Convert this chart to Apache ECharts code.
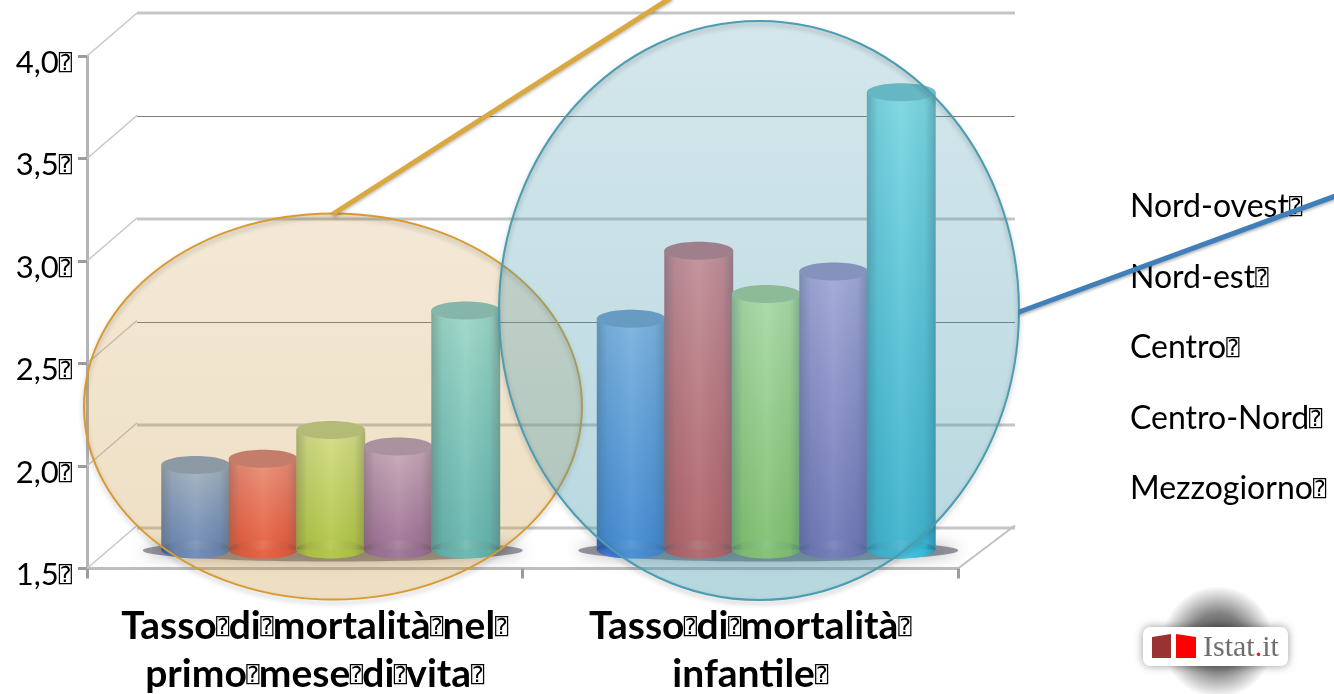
<!DOCTYPE html>
<html>
<head>
<meta charset="utf-8">
<title>Tasso di mortalità</title>
<script src="https://cdn.jsdelivr.net/npm/echarts@6/dist/echarts.min.js"></script>
<style>
  html, body { margin: 0; padding: 0; background: #fff; overflow: hidden; }
  #chart { width: 1334px; height: 694px; }
</style>
</head>
<body>
<div id="chart"></div>
<script>
// Mortality rates by area of Italy
const categories = ['Tasso⍰di⍰mortalità⍰nel⍰\nprimo⍰mese⍰di⍰vita⍰', 'Tasso⍰di⍰mortalità⍰\ninfantile⍰'];
const areas = ['Nord-ovest⍰', 'Nord-est⍰', 'Centro⍰', 'Centro-Nord⍰', 'Mezzogiorno⍰'];
const nordOvest = [1.91, 2.62];
const nordEst = [1.94, 2.95];
const centro = [2.08, 2.74];
const centroNord = [2.00, 2.85];
const mezzogiorno = [2.66, 3.72];
const yTicks = [1.5, 2.0, 2.5, 3.0, 3.5, 4.0];
const yTickLabels = ['1,5⍰', '2,0⍰', '2,5⍰', '3,0⍰', '3,5⍰', '4,0⍰'];

const seriesValues = [nordOvest, nordEst, centro, centroNord, mezzogiorno];
// [light top, saturated bottom] for each cylinder
const barColors = [
  ['#92bef6', '#3f80ea'],
  ['#f8898e', '#f53f39'],
  ['#d8f9a2', '#a5da45'],
  ['#c8afe9', '#895fbd'],
  ['#8ceef5', '#36c3e2']
];

const FONT = 'Lato, "DejaVu Sans Mono", "DejaVu Sans", sans-serif';
const G = echarts.graphic;

// Front plane, mid-depth plane (bars) and back wall of the 3D box
const depthX = 50, depthY = 43;
const plane = (dx, dy) => ({ left: 87 + dx, top: 56 - dy, width: 871, height: 515, containLabel: false });

function hiddenX(i) {
  return { gridIndex: i, type: 'category', data: categories, show: false };
}
function hiddenY(i) {
  return { gridIndex: i, type: 'value', min: 1.5, max: 4, interval: 0.5, show: false };
}

// Label split into tokens: an inner box glyph keeps only a narrow advance
function boxedLabel(text) {
  return text.split('\n').map(line => {
    const parts = line.split('⍰');
    return parts.slice(0, -1).map((p, i) =>
      `{t|${p}}` + (i < parts.length - 2 ? '{q|⍰}' : '{e|⍰}')).join('');
  }).join('\n');
}

function cylinder(index) {
  return function (params, api) {
    const cat = api.value(0), val = api.value(1);
    const top = api.coord([cat, val]);
    const base = api.coord([cat, 1.5]);
    const step = api.size([1, 0])[0] * 0.155;
    const half = step * 0.51;
    const cx = top[0] + (index - 2) * step + 1;
    const ry = 9;
    const [light, deep] = barColors[index];
    const vertical = new G.LinearGradient(0, 0, 0, 1, [
      { offset: 0, color: light }, { offset: 1, color: deep }
    ]);
    const edges = new G.LinearGradient(0, 0, 1, 0, [
      { offset: 0, color: 'rgba(40,50,70,0.34)' },
      { offset: 0.16, color: 'rgba(40,50,70,0.08)' },
      { offset: 0.5, color: 'rgba(255,255,255,0.10)' },
      { offset: 0.84, color: 'rgba(40,50,70,0.08)' },
      { offset: 1, color: 'rgba(40,50,70,0.34)' }
    ]);
    const h = base[1] - top[1];
    return {
      type: 'group',
      children: [
        { type: 'ellipse', shape: { cx, cy: base[1], rx: half, ry }, style: { fill: deep } },
        { type: 'rect', shape: { x: cx - half, y: top[1], width: half * 2, height: h }, style: { fill: vertical } },
        { type: 'ellipse', shape: { cx, cy: base[1], rx: half, ry }, style: { fill: edges } },
        { type: 'rect', shape: { x: cx - half, y: top[1], width: half * 2, height: h }, style: { fill: edges } },
        { type: 'ellipse', shape: { cx, cy: top[1], rx: half, ry }, style: { fill: light } },
        { type: 'ellipse', shape: { cx, cy: top[1], rx: half, ry }, style: { fill: 'rgba(30,45,70,0.24)' } }
      ]
    };
  };
}

const barSeries = areas.map((name, i) => ({
  name,
  type: 'custom',
  xAxisIndex: 1,
  yAxisIndex: 1,
  z: 5,
  silent: true,
  renderItem: cylinder(i),
  encode: { x: 0, y: 1 },
  itemStyle: { color: barColors[i][1] },
  data: seriesValues[i].map((v, c) => [c, v]),
  clip: false
}));

const option = {
  backgroundColor: '#ffffff',
  animation: false,
  grid: [plane(0, 0), plane(depthX / 2, depthY / 2), plane(depthX + 7, depthY)],
  xAxis: [
    {
      gridIndex: 0,
      type: 'category',
      data: categories,
      axisLine: { lineStyle: { color: '#bdbdbd', width: 3 } },
      axisTick: { show: true, length: 10, alignWithLabel: false, lineStyle: { color: '#9c9c9c', width: 3 } },
      axisLabel: {
        interval: 0,
        margin: 34,
        padding: [0, 0, 0, 20],
        formatter: boxedLabel,
        rich: {
          t: { fontFamily: FONT, fontSize: 39, fontWeight: 'bold', color: '#000', lineHeight: 48 },
          q: { fontFamily: FONT, fontSize: 22, color: '#000', width: 12, lineHeight: 48 },
          e: { fontFamily: FONT, fontSize: 22, color: '#000', lineHeight: 48 }
        }
      }
    },
    hiddenX(1),
    hiddenX(2)
  ],
  yAxis: [
    {
      gridIndex: 0,
      type: 'value',
      min: 1.5,
      max: 4,
      interval: 0.5,
      axisLine: { show: true, lineStyle: { color: '#b4b4b4', width: 3 } },
      axisTick: { show: true, length: 9, lineStyle: { color: '#9c9c9c', width: 3 } },
      splitLine: { show: false },
      axisLabel: {
        margin: 15,
        padding: [13, 0, 0, 0],
        formatter: v => boxedLabel(yTickLabels[yTicks.indexOf(v)]),
        rich: {
          t: { fontFamily: FONT, fontSize: 31, color: '#000' },
          e: { fontFamily: FONT, fontSize: 22, color: '#000' }
        }
      }
    },
    hiddenY(1),
    hiddenY(2)
  ],
  legend: {
    orient: 'vertical',
    left: 1120,
    top: 186,
    itemWidth: 0,
    itemHeight: 0,
    itemGap: 38.5,
    selectedMode: false,
    data: areas,
    formatter: boxedLabel,
    textStyle: {
      rich: {
        t: { fontFamily: FONT, fontSize: 32, color: '#000', lineHeight: 31 },
        e: { fontFamily: FONT, fontSize: 22, color: '#000', lineHeight: 31 }
      }
    }
  },
  series: [
    // Back wall rules, alternating heavy and fine as printed
    {
      type: 'custom',
      xAxisIndex: 2,
      yAxisIndex: 2,
      z: 1,
      silent: true,
      data: yTicks.map(v => [v]),
      encode: { y: 0 },
      renderItem(params, api) {
        const sys = params.coordSys;
        const fine = params.dataIndex === 2 || params.dataIndex === 4;
        const y = api.coord([0, api.value(0)])[1] + (fine ? 0.5 : 0);
        return {
          type: 'line',
          shape: { x1: sys.x - 7, y1: y, x2: sys.x + sys.width, y2: y },
          style: { stroke: fine ? '#7c7c7c' : '#c6c6c6', lineWidth: fine ? 1 : 3 }
        };
      }
    },
    // Receding edges of the left wall
    {
      type: 'custom',
      xAxisIndex: 0,
      yAxisIndex: 0,
      z: 1,
      silent: true,
      data: yTicks.map(v => [v]),
      encode: { y: 0 },
      renderItem(params, api) {
        const sys = params.coordSys;
        const y = api.coord([0, api.value(0)])[1];
        return {
          type: 'line',
          shape: { x1: sys.x, y1: y, x2: sys.x + depthX, y2: y - depthY },
          style: { stroke: '#c8c8c8', lineWidth: 1.6 }
        };
      }
    },
    // Receding edge of the floor on the right
    {
      type: 'custom',
      xAxisIndex: 0,
      yAxisIndex: 0,
      z: 1,
      silent: true,
      data: [[yTicks[0]]],
      encode: { y: 0 },
      renderItem(params, api) {
        const sys = params.coordSys;
        const y = api.coord([0, api.value(0)])[1];
        return {
          type: 'line',
          shape: { x1: sys.x + sys.width, y1: y, x2: sys.x + sys.width + depthX + 7, y2: y - depthY },
          style: { stroke: '#bdbdbd', lineWidth: 1.6 }
        };
      }
    },
    // Shadow the bars cast on the floor
    {
      type: 'custom',
      xAxisIndex: 1,
      yAxisIndex: 1,
      z: 3,
      silent: true,
      data: categories.map((c, i) => [i, yTicks[0]]),
      encode: { x: 0, y: 1 },
      clip: false,
      renderItem(params, api) {
        const p = api.coord([api.value(0), api.value(1)]);
        return {
          type: 'ellipse',
          shape: { cx: p[0] + 3, cy: p[1] + 1, rx: 190, ry: 11 },
          style: { fill: 'rgba(70,70,85,0.55)', shadowBlur: 16, shadowColor: 'rgba(70,70,85,0.75)' }
        };
      }
    }
  ].concat(barSeries),
  graphic: [
    // Highlight ovals around the two indicators: tint first, outline with its soft shadow on top
    {
      type: 'ellipse', z: 20, silent: true,
      shape: { cx: 333, cy: 406.5, rx: 249, ry: 193 },
      style: {
        fill: new G.LinearGradient(0, 0, 0, 1, [
          { offset: 0, color: 'rgba(200,150,60,0.21)' },
          { offset: 1, color: 'rgba(200,150,60,0.31)' }
        ])
      }
    },
    {
      type: 'ellipse', z: 20, silent: true,
      shape: { cx: 333, cy: 406.5, rx: 249, ry: 193 },
      style: {
        fill: 'none', stroke: '#d99a30', lineWidth: 2,
        shadowBlur: 5, shadowOffsetY: 3, shadowColor: 'rgba(0,0,0,0.28)'
      }
    },
    {
      type: 'ellipse', z: 21, silent: true,
      shape: { cx: 759, cy: 310.5, rx: 260, ry: 289.5 },
      style: {
        fill: new G.LinearGradient(0, 0, 0, 1, [
          { offset: 0, color: 'rgba(75,155,175,0.24)' },
          { offset: 1, color: 'rgba(75,155,175,0.40)' }
        ])
      }
    },
    {
      type: 'ellipse', z: 21, silent: true,
      shape: { cx: 759, cy: 310.5, rx: 260, ry: 289.5 },
      style: {
        fill: 'none', stroke: '#4a9db2', lineWidth: 2,
        shadowBlur: 5, shadowOffsetY: 3, shadowColor: 'rgba(0,0,0,0.28)'
      }
    },
    // Callout leaders
    {
      type: 'line', z: 22, silent: true,
      shape: { x1: 333, y1: 214, x2: 672, y2: -3 },
      style: { stroke: '#dba83f', lineWidth: 5, shadowBlur: 3, shadowOffsetY: 2, shadowColor: 'rgba(0,0,0,0.25)' }
    },
    {
      type: 'line', z: 22, silent: true,
      shape: { x1: 1019, y1: 312, x2: 1338, y2: 195 },
      style: { stroke: '#3f80ba', lineWidth: 5, shadowBlur: 3, shadowOffsetY: 2, shadowColor: 'rgba(0,0,0,0.3)' }
    },
    // Publisher badge
    {
      type: 'ellipse', z: 15, silent: true,
      shape: { cx: 1218, cy: 642, rx: 98, ry: 56 },
      style: {
        fill: new G.RadialGradient(0.5, 0.5, 0.5, [
          { offset: 0, color: 'rgba(0,0,0,0.72)' },
          { offset: 0.5, color: 'rgba(0,0,0,0.5)' },
          { offset: 1, color: 'rgba(0,0,0,0)' }
        ])
      }
    },
    {
      type: 'rect', z: 16, silent: true,
      shape: { x: 1143, y: 627, width: 145, height: 39, r: 7 },
      style: { fill: '#ffffff', shadowBlur: 8, shadowColor: 'rgba(0,0,0,0.4)' }
    },
    {
      type: 'polygon', z: 17, silent: true,
      shape: { points: [[1152, 637], [1171, 634], [1171, 658], [1152, 658]] },
      style: { fill: '#993333' }
    },
    {
      type: 'polygon', z: 17, silent: true,
      shape: { points: [[1176, 634], [1196, 637], [1196, 658], [1176, 658]] },
      style: { fill: '#ff0000' }
    },
    {
      type: 'text', z: 17, silent: true, x: 1203, y: 633,
      style: {
        text: '{a|Istat}{b|.}{a|it}',
        rich: {
          a: { fontFamily: '"Liberation Serif", serif', fontSize: 30, fill: '#6e6e6e' },
          b: { fontFamily: '"Liberation Serif", serif', fontSize: 30, fill: '#e02020' }
        }
      }
    }
  ]
};

const chart = echarts.init(document.getElementById('chart'), null, { renderer: 'canvas' });
chart.setOption(option);
</script>
</body>
</html>
